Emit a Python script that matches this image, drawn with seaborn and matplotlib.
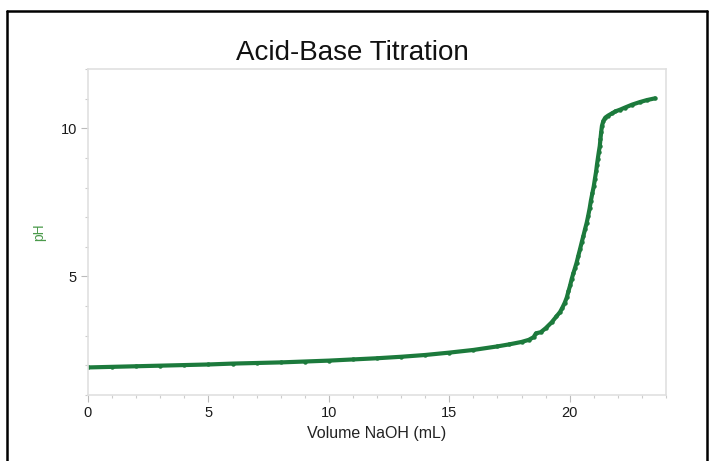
import matplotlib
matplotlib.use("Agg")
import matplotlib.pyplot as plt
import seaborn as sns
import pandas as pd
from matplotlib.lines import Line2D
from matplotlib.ticker import MultipleLocator

volume_ml = [0, 1, 2, 3, 4, 5, 6, 7, 8, 9, 10, 11, 12, 13, 14, 15, 16, 17, 17.5, 18,
             18.3, 18.5, 18.6, 18.8, 19.0, 19.25, 19.45, 19.6, 19.7, 19.8, 19.88, 19.95,
             20.02, 20.08, 20.15, 20.22, 20.29, 20.36, 20.43, 20.5, 20.57, 20.64, 20.71,
             20.77, 20.83, 20.88, 20.94, 21.0, 21.05, 21.1, 21.13, 21.17, 21.21, 21.25,
             21.28, 21.31, 21.34, 21.4, 21.48, 21.6, 21.75, 21.9, 22.1, 22.3, 22.6, 22.9,
             23.2, 23.54]
ph_values = [1.93, 1.95, 1.97, 1.99, 2.01, 2.03, 2.06, 2.08, 2.10, 2.13, 2.16, 2.20, 2.24,
             2.29, 2.35, 2.43, 2.52, 2.64, 2.71, 2.79, 2.86, 2.95, 3.08, 3.12, 3.25, 3.45,
             3.65, 3.80, 3.95, 4.12, 4.29, 4.50, 4.70, 4.90, 5.10, 5.28, 5.47, 5.70, 5.92,
             6.15, 6.37, 6.60, 6.82, 7.05, 7.30, 7.55, 7.80, 8.04, 8.30, 8.55, 8.75, 8.98,
             9.20, 9.40, 9.65, 9.88, 10.08, 10.25, 10.36, 10.43, 10.50, 10.57, 10.63, 10.70,
             10.80, 10.88, 10.95, 11.01]
x_ticks = [0, 5, 10, 15, 20]
y_ticks = [5, 10]

title = "Acid-Base Titration"
x_label = "Volume NaOH (mL)"
y_label = "pH"

df = pd.DataFrame({"vol": volume_ml, "ph": ph_values})

sns.set_theme(style="white")
plt.rcParams["font.family"] = ["Liberation Sans", "DejaVu Sans"]

fig = plt.figure(figsize=(7.10, 4.61), dpi=100)
ax = fig.add_axes([88 / 710, 1 - 395 / 461, (666 - 88) / 710, (395 - 69) / 461])

green = "#1c7a3c"
sns.lineplot(data=df, x="vol", y="ph", ax=ax, color=green, linewidth=3.0,
             marker="o", markersize=3.2, markeredgewidth=0, sort=False)

ax.set_xlim(0, 24)
ax.set_ylim(1, 12)
ax.set_xticks(x_ticks)
ax.set_yticks(y_ticks)
ax.xaxis.set_minor_locator(MultipleLocator(1))
ax.yaxis.set_minor_locator(MultipleLocator(1))
ax.tick_params(axis="both", which="major", direction="out", length=5, width=0.8,
               color="#bbbbbb", labelsize=10.5, labelcolor="#1a1a1a", pad=3)
ax.tick_params(axis="both", which="minor", direction="out", length=2.5, width=0.8,
               color="#cccccc")
ax.tick_params(axis="x", which="both", bottom=True)
ax.tick_params(axis="y", which="both", left=True)

for side in ["left", "bottom", "top", "right"]:
    ax.spines[side].set_color("#e0e0e0")
    ax.spines[side].set_linewidth(1.2)

ax.set_xlabel(x_label, fontsize=11.5, color="#222222", labelpad=4)
ax.set_ylabel(y_label, fontsize=10, color="#4a9a4a", labelpad=10)
fig.text(352 / 710, 1 - 53 / 461, title, fontsize=20, color="#111111",
         ha="center", va="center")

# figure frame
fig.add_artist(Line2D([7 / 710, 7 / 710], [0, 1 - 11 / 461], transform=fig.transFigure,
                      color="black", linewidth=1.8))
fig.add_artist(Line2D([7 / 710, 707 / 710], [1 - 11 / 461, 1 - 11 / 461],
                      transform=fig.transFigure, color="black", linewidth=1.8))
fig.add_artist(Line2D([707 / 710, 707 / 710], [0, 1 - 11 / 461], transform=fig.transFigure,
                      color="black", linewidth=1.8))

fig.savefig("out.png", dpi=100)
